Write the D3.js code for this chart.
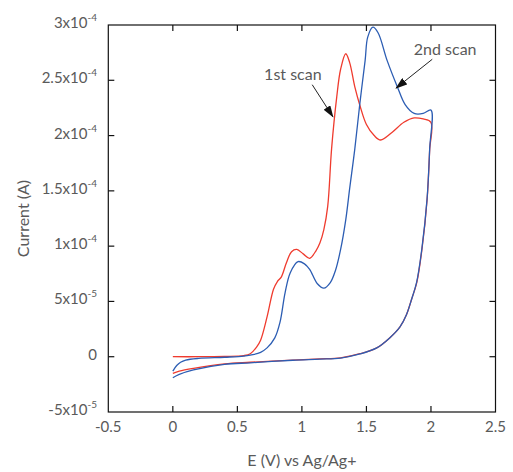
<!DOCTYPE html>
<html>
<head>
<meta charset="utf-8">
<script src="https://cdn.jsdelivr.net/npm/d3@7"></script>
<style>
  html, body { margin: 0; padding: 0; background: #fff; }
  svg text { font-family: Lato, "Open Sans", sans-serif; font-weight: 400; fill: #5a5a5a; }
</style>
</head>
<body>
<div id="chart"></div>
<script>
// Cyclic voltammogram, 1st and 2nd scan

const xTicks = [-0.5, 0, 0.5, 1, 1.5, 2, 2.5];
const xTickLabels = ["-0.5", "0", "0.5", "1", "1.5", "2", "2.5"];
const yTicks = [-5e-5, 0, 5e-5, 1e-4, 1.5e-4, 2e-4, 2.5e-4, 3e-4];
const yTickMant = ["-5", "0", "5", "1", "1.5", "2", "2.5", "3"];
const yTickExp = ["-5", "", "-5", "-4", "-4", "-4", "-4", "-4"];

// scan 1 (red): forward sweep 0 -> 2 V then back to 0 V
const scan1Potential = [0, 0.2, 0.4, 0.55, 0.6, 0.65, 0.68, 0.73, 0.78, 0.81, 0.84, 0.88, 0.92, 0.96, 1.01, 1.06, 1.11, 1.14, 1.17, 1.2, 1.23, 1.27, 1.3, 1.34, 1.37, 1.41, 1.45, 1.5, 1.56, 1.61, 1.7, 1.79, 1.87, 1.94, 2.0,
  1.99, 1.97, 1.93, 1.89, 1.85, 1.81, 1.76, 1.68, 1.58, 1.45, 1.3, 1.14, 0.93, 0.6, 0.4, 0.16, 0.05, 0];
const scan1Current = [0, 0, 0.3e-6, 1e-6, 2.7e-6, 9e-6, 1.5e-5, 3.6e-5, 6.1e-5, 6.8e-5, 7.2e-5, 8.5e-5, 9.5e-5, 9.7e-5, 9.3e-5, 8.9e-5, 9.6e-5, 1.03e-4, 1.15e-4, 1.36e-4, 1.88e-4, 2.35e-4, 2.6e-4, 2.74e-4, 2.66e-4, 2.44e-4, 2.27e-4, 2.1e-4, 2.0e-4, 1.96e-4, 2.03e-4, 2.12e-4, 2.16e-4, 2.15e-4, 2.12e-4,
  1.87e-4, 1.42e-4, 9.7e-5, 6.7e-5, 5.2e-5, 3.8e-5, 2.7e-5, 1.7e-5, 8e-6, 2.7e-6, -1e-6, -2e-6, -3e-6, -5e-6, -6.5e-6, -1.05e-5, -1.3e-5, -1.5e-5];

// scan 2 (blue)
const scan2Potential = [0, 0.03, 0.06, 0.1, 0.2, 0.4, 0.55, 0.62, 0.68, 0.73, 0.79, 0.83, 0.87, 0.91, 0.97, 1.02, 1.06, 1.12, 1.17, 1.22, 1.26, 1.3, 1.34, 1.37, 1.41, 1.45, 1.49, 1.51, 1.55, 1.59, 1.66, 1.74, 1.8, 1.87, 1.94, 2.0,
  1.99, 1.97, 1.93, 1.89, 1.85, 1.81, 1.76, 1.68, 1.58, 1.45, 1.3, 1.14, 0.93, 0.6, 0.4, 0.16, 0.05, 0];
const scan2Current = [-1.3e-5, -8e-6, -5e-6, -3e-6, -1.5e-6, -0.5e-6, 0.5e-6, 1.8e-6, 4e-6, 8e-6, 1.7e-5, 3.1e-5, 5.8e-5, 7.6e-5, 8.6e-5, 8.4e-5, 7.9e-5, 6.6e-5, 6.2e-5, 6.7e-5, 7.8e-5, 9.7e-5, 1.24e-4, 1.52e-4, 1.88e-4, 2.3e-4, 2.68e-4, 2.89e-4, 2.98e-4, 2.93e-4, 2.68e-4, 2.44e-4, 2.28e-4, 2.2e-4, 2.2e-4, 2.23e-4,
  1.88e-4, 1.43e-4, 9.8e-5, 6.8e-5, 5.2e-5, 3.8e-5, 2.7e-5, 1.7e-5, 8e-6, 2.5e-6, -1.2e-6, -2.2e-6, -3.2e-6, -5.5e-6, -7e-6, -1.2e-5, -1.6e-5, -1.9e-5];

// annotations in data coordinates: label position, arrow tail, arrow tip
const noteLabels = ["1st scan", "2nd scan"];
const noteText = [[0.93, 2.5e-4], [2.11, 2.73e-4]];
const noteTail = [[1.08, 2.46e-4], [2.01, 2.69e-4]];
const noteTip = [[1.24, 2.17e-4], [1.73, 2.43e-4]];

const width = 513, height = 472;
const plot = { left: 108.3, right: 495.5, top: 25, bottom: 412 };

const svg = d3.select("#chart")
  .append("svg")
  .attr("width", width)
  .attr("height", height);

const x = d3.scaleLinear().domain([-0.5, 2.5]).range([plot.left, plot.right]);
const y = d3.scaleLinear().domain([-5e-5, 3e-4]).range([plot.bottom, plot.top]);

// ----- curves -----
const line = d3.line()
  .x(d => x(d[0]))
  .y(d => y(d[1]))
  .curve(d3.curveCatmullRom.alpha(0.5));

const scans = [
  { pts: d3.zip(scan1Potential, scan1Current), color: "#ef3b2e" },
  { pts: d3.zip(scan2Potential, scan2Current), color: "#2c5db3" }
];

svg.selectAll("path.scan")
  .data(scans)
  .enter()
  .append("path")
  .attr("class", "scan")
  .attr("fill", "none")
  .attr("stroke", d => d.color)
  .attr("stroke-width", 1.3)
  .attr("d", d => line(d.pts));

// ----- frame and ticks (mirrored, pointing inwards) -----
const tickLen = 6;
const axisG = svg.append("g").attr("stroke", "#111").attr("stroke-width", 1.2);

axisG.append("rect")
  .attr("x", plot.left).attr("y", plot.top)
  .attr("width", plot.right - plot.left)
  .attr("height", plot.bottom - plot.top)
  .attr("fill", "none");

xTicks.slice(1, -1).forEach(t => {
  axisG.append("line").attr("x1", x(t)).attr("x2", x(t)).attr("y1", plot.bottom).attr("y2", plot.bottom - tickLen);
  axisG.append("line").attr("x1", x(t)).attr("x2", x(t)).attr("y1", plot.top).attr("y2", plot.top + tickLen);
});
yTicks.slice(1, -1).forEach(t => {
  axisG.append("line").attr("x1", plot.left).attr("x2", plot.left + tickLen).attr("y1", y(t)).attr("y2", y(t));
  axisG.append("line").attr("x1", plot.right).attr("x2", plot.right - tickLen).attr("y1", y(t)).attr("y2", y(t));
});

// ----- tick labels -----
svg.selectAll("text.xtick")
  .data(xTicks)
  .enter()
  .append("text")
  .attr("class", "xtick")
  .attr("x", d => x(d))
  .attr("y", plot.bottom + 20)
  .attr("text-anchor", "middle")
  .attr("font-size", 15)
  .text((d, i) => xTickLabels[i]);

const yLabels = svg.selectAll("text.ytick")
  .data(yTicks)
  .enter()
  .append("text")
  .attr("class", "ytick")
  .attr("x", 97)
  .attr("y", d => y(d) + 3)
  .attr("text-anchor", "end")
  .attr("font-size", 15);

yLabels.append("tspan")
  .text((d, i) => yTickExp[i] ? yTickMant[i] + "x10" : yTickMant[i]);
yLabels.filter((d, i) => yTickExp[i] !== "")
  .append("tspan")
  .attr("dy", -7)
  .attr("font-size", 10)
  .text(d => yTickExp[yTicks.indexOf(d)]);

// ----- axis titles -----
svg.append("text")
  .attr("x", (plot.left + plot.right) / 2)
  .attr("y", 466)
  .attr("text-anchor", "middle")
  .attr("font-size", 16)
  .text("E (V) vs Ag/Ag+");

svg.append("text")
  .attr("transform", `translate(29, ${(plot.top + plot.bottom) / 2}) rotate(-90)`)
  .attr("text-anchor", "middle")
  .attr("font-size", 16)
  .text("Current (A)");

// ----- annotations -----
svg.append("defs").append("marker")
  .attr("id", "arrow")
  .attr("markerUnits", "userSpaceOnUse")
  .attr("markerWidth", 12).attr("markerHeight", 8)
  .attr("refX", 11).attr("refY", 4)
  .attr("orient", "auto")
  .append("path")
  .attr("d", "M0,0 L12,4 L0,8 Z")
  .attr("fill", "#111");

noteLabels.forEach((label, i) => {
  svg.append("text")
    .attr("x", x(noteText[i][0]))
    .attr("y", y(noteText[i][1]))
    .attr("text-anchor", "middle")
    .attr("font-size", 16)
    .text(label);
  svg.append("line")
    .attr("x1", x(noteTail[i][0])).attr("y1", y(noteTail[i][1]))
    .attr("x2", x(noteTip[i][0])).attr("y2", y(noteTip[i][1]))
    .attr("stroke", "#222")
    .attr("stroke-width", 1)
    .attr("marker-end", "url(#arrow)");
});
</script>
</body>
</html>
